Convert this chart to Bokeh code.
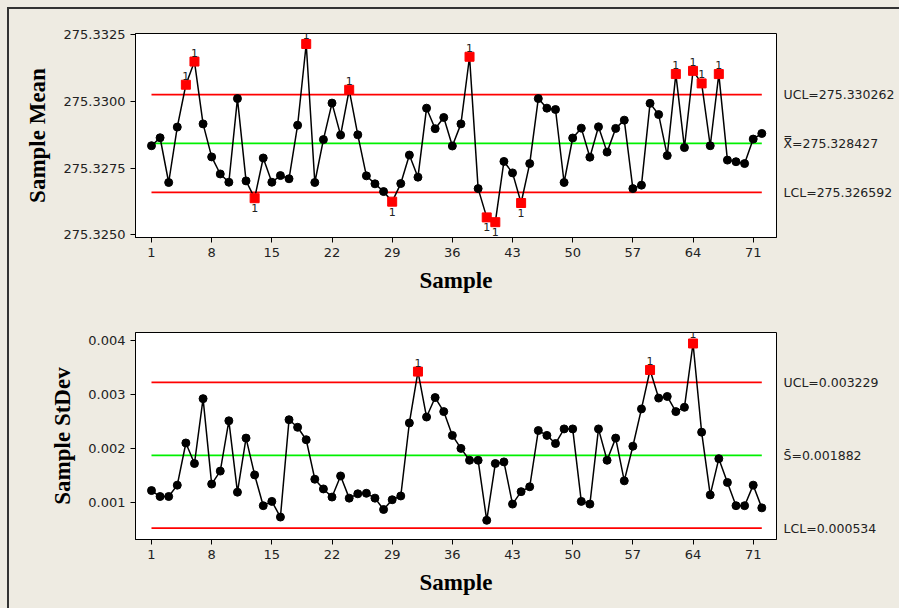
import numpy as np
from bokeh.plotting import figure
from bokeh.models import FixedTicker, NumeralTickFormatter, LinearAxis
from bokeh.layouts import column
from bokeh.embed import file_html
from bokeh.resources import INLINE
from bokeh.core.properties import value

samples = list(range(1, 73))

xbar = [275.32834, 275.32864, 275.32696, 275.32904, 275.33063, 275.33150, 275.32916, 275.32792, 275.32728, 275.32697,
        275.33011, 275.32702, 275.32637, 275.32788, 275.32697, 275.32722, 275.32710, 275.32911, 275.33216, 275.32696,
        275.32857, 275.32994, 275.32874, 275.33044, 275.32875, 275.32721, 275.32691, 275.32662, 275.32624, 275.32692,
        275.32799, 275.32716, 275.32975, 275.32898, 275.32940, 275.32833, 275.32916, 275.33168, 275.32673, 275.32565,
        275.32547, 275.32775, 275.32732, 275.32619, 275.32767, 275.33011, 275.32975, 275.32970, 275.32696, 275.32863,
        275.32900, 275.32791, 275.32905, 275.32810, 275.32899, 275.32930, 275.32673, 275.32686, 275.32993, 275.32951,
        275.32797, 275.33103, 275.32827, 275.33115, 275.33068, 275.32834, 275.33103, 275.32780, 275.32774, 275.32767,
        275.32859, 275.32880]

sdev = [0.00123, 0.00112, 0.00112, 0.00133, 0.00211, 0.00173, 0.00293, 0.00135, 0.00159, 0.00252,
        0.00120, 0.00220, 0.00152, 0.00095, 0.00103, 0.00074, 0.00254, 0.00240, 0.00217, 0.00144,
        0.00126, 0.00111, 0.00150, 0.00109, 0.00117, 0.00118, 0.00109, 0.00088, 0.00106, 0.00113,
        0.00248, 0.00343, 0.00259, 0.00295, 0.00269, 0.00225, 0.00201, 0.00179, 0.00179, 0.00068,
        0.00173, 0.00176, 0.00098, 0.00121, 0.00130, 0.00234, 0.00225, 0.00210, 0.00237, 0.00237,
        0.00103, 0.00098, 0.00237, 0.00179, 0.00220, 0.00141, 0.00205, 0.00274, 0.00346, 0.00294,
        0.00297, 0.00269, 0.00277, 0.00395, 0.00231, 0.00115, 0.00182, 0.00138, 0.00095, 0.00095,
        0.00133, 0.00091]

xbar_ucl, xbar_cl, xbar_lcl = 275.330262, 275.328427, 275.326592
s_ucl, s_cl, s_lcl = 0.003229, 0.001882, 0.000534
xbar_limit_labels = ["UCL=275.330262", "X\u033f=275.328427", "LCL=275.326592"]
s_limit_labels = ["UCL=0.003229", "S\u0304=0.001882", "LCL=0.000534"]

x_ticks = [1, 8, 15, 22, 29, 36, 43, 50, 57, 64, 71]
mean_ticks = [275.3250, 275.3275, 275.3300, 275.3325]
sd_ticks = [0.001, 0.002, 0.003, 0.004]

BG = "#EEEBE2"
TICK_FONT = "DejaVu Sans"
TITLE_FONT = "Liberation Serif"


def build(vals, ucl, cl, lcl, ylabel, yr, yticks, yfmt, h, mtop, mbot, texts):
    p = figure(width=890, height=h, x_range=(-0.86, 73.71), y_range=yr,
               output_backend="svg", toolbar_location=None,
               min_border_left=126, min_border_right=123,
               min_border_top=mtop, min_border_bottom=mbot)
    p.background_fill_color = "white"
    p.border_fill_color = BG
    p.outline_line_color = "black"
    p.outline_line_width = 1
    p.grid.visible = False

    for ax in (p.xaxis[0], p.yaxis[0]):
        ax.axis_line_color = "black"
        ax.major_tick_line_color = "black"
        ax.major_tick_out = 5
        ax.major_tick_in = 0
        ax.minor_tick_line_color = None
        ax.major_label_text_font = TICK_FONT
        ax.major_label_text_font_size = "13px"
        ax.major_label_text_color = "#222222"
        ax.axis_label_text_font = TITLE_FONT
        ax.axis_label_text_font_style = "bold"
        ax.axis_label_text_font_size = "23px"
        ax.axis_label_text_color = "black"
    p.xaxis.ticker = FixedTicker(ticks=x_ticks)
    p.xaxis.axis_label = "Sample"
    p.xaxis.axis_label_standoff = 8
    p.yaxis.ticker = FixedTicker(ticks=yticks)
    p.yaxis.formatter = NumeralTickFormatter(format=yfmt)
    p.yaxis.axis_label = ylabel
    p.yaxis.axis_label_standoff = 10

    # control-limit captions as a tick-only axis on the right
    lim_axis = LinearAxis(ticker=FixedTicker(ticks=[ucl, cl, lcl]),
                          major_label_overrides={ucl: texts[0], cl: texts[1], lcl: texts[2]},
                          axis_line_color=None, major_tick_line_color=None,
                          major_tick_out=0, major_tick_in=0,
                          minor_tick_line_color=None, minor_tick_out=0, minor_tick_in=0,
                          major_label_standoff=7,
                          major_label_text_font=TICK_FONT, major_label_text_font_size="12.5px",
                          major_label_text_color="#222222")
    p.add_layout(lim_axis, "right")

    x0, x1 = samples[0], samples[-1]
    p.segment(x0=[x0, x0], x1=[x1, x1], y0=[ucl, lcl], y1=[ucl, lcl], line_color="#FF0000", line_width=1.7)
    p.segment(x0=[x0], x1=[x1], y0=[cl], y1=[cl], line_color="#00F000", line_width=1.8)

    p.line(samples, vals, line_color="black", line_width=1.5)
    arr = np.array(vals)
    xs = np.array(samples)
    ok = (arr <= ucl) & (arr >= lcl)
    p.scatter(xs[ok], arr[ok], marker="circle", size=8, color="black")
    hi = arr > ucl
    lo = arr < lcl
    p.scatter(xs[hi | lo], arr[hi | lo], marker="square", size=9, color="#FF0000")
    if hi.any():
        p.text(xs[hi], arr[hi], text=["1"] * int(hi.sum()), text_font=value(TICK_FONT),
               text_font_size="11px", text_align="center", text_baseline="bottom",
               y_offset=-5, text_color="#222222")
    if lo.any():
        p.text(xs[lo], arr[lo], text=["1"] * int(lo.sum()), text_font=value(TICK_FONT),
               text_font_size="11px", text_align="center", text_baseline="top",
               y_offset=6, text_color="#222222")
    return p


p1 = build(xbar, xbar_ucl, xbar_cl, xbar_lcl, "Sample Mean", (275.324895, 275.332553),
           mean_ticks, "0.0000", 291, 24, 63, xbar_limit_labels)
p2 = build(sdev, s_ucl, s_cl, s_lcl, "Sample StDev", (0.000325, 0.004153),
           sd_ticks, "0.000", 308, 32, 69, s_limit_labels)

inner = column(p1, p2, spacing=0,
               styles={"border-left": "2px solid #333333", "border-top": "2px solid #333333",
                       "background-color": BG})
layout = column(inner, spacing=0,
                styles={"background-color": BG, "padding-left": "7px", "padding-top": "7px"})
open("out.html", "w").write(file_html(layout, INLINE))
